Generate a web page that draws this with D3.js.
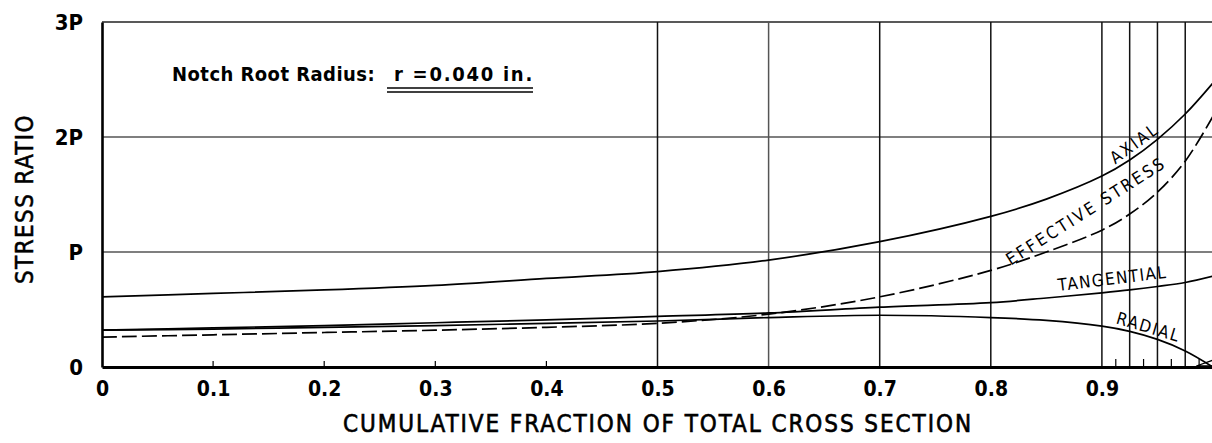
<!DOCTYPE html>
<html><head><meta charset="utf-8">
<script src="https://cdn.jsdelivr.net/npm/d3@7"></script>
<style>body{margin:0;background:#fff;} svg{display:block;}</style>
</head><body>
<script>
// ---- data (stress in units of P) ----
const fraction   = [0, 0.1, 0.2, 0.3, 0.4, 0.5, 0.6, 0.7, 0.8, 0.85, 0.9, 0.925, 0.95, 0.975, 1.0];
const axial      = [0.61, 0.64, 0.67, 0.71, 0.77, 0.83, 0.93, 1.09, 1.31, 1.46, 1.66, 1.80, 1.98, 2.20, 2.47];
const effective  = [0.26, 0.28, 0.30, 0.32, 0.345, 0.38, 0.46, 0.61, 0.84, 1.00, 1.19, 1.33, 1.52, 1.79, 2.18];
const tangential = [0.32, 0.34, 0.36, 0.385, 0.41, 0.44, 0.47, 0.52, 0.56, 0.60, 0.645, 0.67, 0.70, 0.735, 0.79];
const radial     = [0.32, 0.33, 0.345, 0.36, 0.38, 0.40, 0.43, 0.45, 0.43, 0.405, 0.355, 0.31, 0.24, 0.14, 0.0];

const xTickValues = [0, 0.1, 0.2, 0.3, 0.4, 0.5, 0.6, 0.7, 0.8, 0.9];
const xTickLabels = ["0", "0.1", "0.2", "0.3", "0.4", "0.5", "0.6", "0.7", "0.8", "0.9"];
const yTickValues = [0, 1, 2, 3];
const yTickLabels = ["0", "P", "2P", "3P"];
const xGridValues = [0.5, 0.6, 0.7, 0.8, 0.9, 0.925, 0.95, 0.975];
const xMinorTicks = [0.1, 0.2, 0.3, 0.4];
const xFineTicks  = [0.9125, 0.9375, 0.9625, 0.9875];
const yGridValues = [1, 2];

// curve labels: text, anchor (fraction, stress), angle, length
const curveLabelText   = ["AXIAL", "EFFECTIVE STRESS", "TANGENTIAL", "RADIAL"];
const curveLabelAnchor = [[0.912, 1.76], [0.818, 0.88], [0.861, 0.66], [0.912, 0.38]];
const curveLabelAngle  = [-36, -32.5, -7, 16.5];
const curveLabelLength = [56, 186, 110, 66];

const xTitle = "CUMULATIVE FRACTION OF TOTAL CROSS SECTION";
const yTitle = "STRESS RATIO";
const noteText = "Notch Root Radius:";
const noteValue = "r =0.040 in.";

// ---- drawing ----
const W = 1212, H = 443;
const FONT = "'DejaVu Sans Condensed','Liberation Sans Narrow','DejaVu Sans',sans-serif";
const svg = d3.select("body").append("svg").attr("width", W).attr("height", H)
  .style("font-family", FONT);

const x = d3.scaleLinear().domain([0, 1]).range([102, 1213]);
const y = d3.scaleLinear().domain([0, 3]).range([367, 22]);

function fitSpacing(sel, target) {
  const n = sel.text().length;
  const len = sel.node().getComputedTextLength();
  sel.attr("letter-spacing", ((target - len) / n).toFixed(2));
}

// horizontal grid
svg.append("g").selectAll("line").data(yGridValues).join("line")
  .attr("x1", x(0)).attr("x2", W)
  .attr("y1", d => y(d)).attr("y2", d => y(d))
  .attr("stroke", "#555").attr("stroke-width", 1.3);
// top border
svg.append("line").attr("x1", x(0)).attr("x2", W).attr("y1", y(3)).attr("y2", y(3))
  .attr("stroke", "#222").attr("stroke-width", 1.4);

// vertical grid
svg.append("g").selectAll("line").data(xGridValues).join("line")
  .attr("x1", d => x(d)).attr("x2", d => x(d))
  .attr("y1", y(0)).attr("y2", y(3))
  .attr("stroke", d => d === 0.6 ? "#555" : "#111").attr("stroke-width", 1.5);

// minor ticks
svg.append("g").selectAll("line").data(xMinorTicks).join("line")
  .attr("x1", d => x(d)).attr("x2", d => x(d))
  .attr("y1", y(0)).attr("y2", y(0) - 6)
  .attr("stroke", "#000").attr("stroke-width", 1.2);
svg.append("g").selectAll("line").data(xFineTicks).join("line")
  .attr("x1", d => x(d)).attr("x2", d => x(d))
  .attr("y1", y(0)).attr("y2", y(0) - 8)
  .attr("stroke", "#000").attr("stroke-width", 1.2);

// axes
const xAxis = svg.append("g").attr("transform", `translate(0,${y(0)})`)
  .call(d3.axisBottom(x).tickValues(xTickValues)
    .tickFormat((d, i) => xTickLabels[i]).tickSize(0).tickSizeOuter(0).tickPadding(14));
xAxis.select(".domain").attr("stroke", "#000").attr("stroke-width", 3);
xAxis.selectAll("text").attr("font-family", FONT).attr("font-size", 21)
  .attr("font-weight", "bold").attr("fill", "#000");

const yAxis = svg.append("g").attr("transform", `translate(${x(0)},0)`)
  .call(d3.axisLeft(y).tickValues(yTickValues)
    .tickFormat((d, i) => yTickLabels[i]).tickSize(0).tickSizeOuter(0).tickPadding(19));
yAxis.select(".domain").attr("stroke", "#000").attr("stroke-width", 2.6);
yAxis.selectAll("text").attr("font-family", FONT).attr("font-size", 22)
  .attr("font-weight", "bold").attr("fill", "#000");

// curves
const pts = vals => fraction.map((f, i) => [f, vals[i]]);
const line = d3.line().x(d => x(d[0])).y(d => y(d[1])).curve(d3.curveCatmullRom.alpha(0.5));
const series = [
  { vals: axial, dash: null },
  { vals: tangential, dash: null },
  { vals: radial, dash: null },
  { vals: effective, dash: "15,5" }
];
svg.append("g").selectAll("path").data(series).join("path")
  .attr("d", d => line(pts(d.vals)))
  .attr("fill", "none").attr("stroke", "#000").attr("stroke-width", 1.7)
  .attr("stroke-dasharray", d => d.dash);

// small triangle at the end of radial curve
svg.append("path")
  .attr("d", `M${x(0.985)},${y(0) - 1} L${x(1.0)},${y(0.06)} L${x(1.0)},${y(0) - 1} Z`)
  .attr("fill", "none").attr("stroke", "#000").attr("stroke-width", 1.3);

// curve labels
curveLabelText.forEach((t, i) => {
  const [f, v] = curveLabelAnchor[i];
  const el = svg.append("text")
    .attr("transform", `translate(${x(f)},${y(v)}) rotate(${curveLabelAngle[i]})`)
    .attr("font-size", 17).attr("fill", "#000").text(t);
  fitSpacing(el, curveLabelLength[i]);
});

// annotation
const note1 = svg.append("text").attr("x", 172).attr("y", 81)
  .attr("font-size", 20).attr("font-weight", "bold").attr("fill", "#000").text(noteText);
fitSpacing(note1, 203);
const note2 = svg.append("text").attr("x", 394).attr("y", 81)
  .attr("font-size", 20).attr("font-weight", "bold").attr("fill", "#000").text(noteValue);
fitSpacing(note2, 140);
[88, 92].forEach(yy => svg.append("line")
  .attr("x1", 387).attr("x2", 533).attr("y1", yy).attr("y2", yy)
  .attr("stroke", "#000").attr("stroke-width", 1.4));

// axis titles
const xt = svg.append("text").attr("x", 343).attr("y", 432)
  .attr("font-size", 24).attr("fill", "#000")
  .attr("stroke", "#000").attr("stroke-width", 0.6).text(xTitle);
fitSpacing(xt, 630);
const yt = svg.append("text").attr("transform", "translate(33,284) rotate(-90)")
  .attr("font-size", 24).attr("fill", "#000")
  .attr("stroke", "#000").attr("stroke-width", 0.5).text(yTitle);
fitSpacing(yt, 170);
</script>
</body></html>
